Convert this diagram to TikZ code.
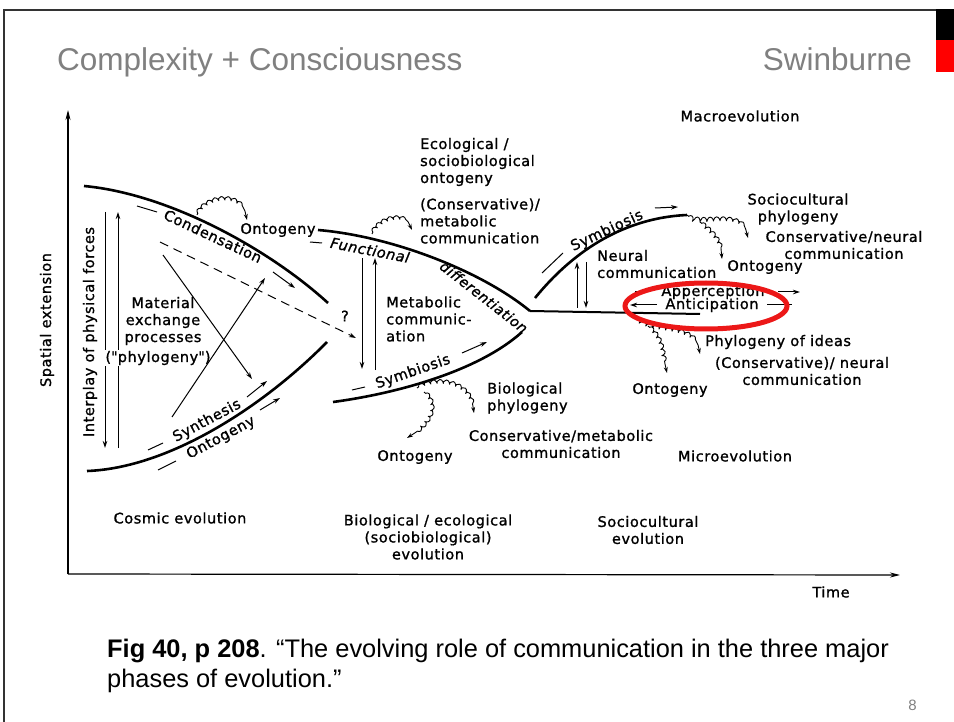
\documentclass[tikz,border=0pt]{standalone}
\usepackage{fontspec}
\usepackage{tikz}
\usetikzlibrary{arrows.meta,decorations.pathmorphing}
\newfontfamily\slidefont{Liberation Sans}
\newfontfamily\figfont[LetterSpace=4,FakeBold=1.2]{DejaVu Sans}
\definecolor{titlegray}{RGB}{128,128,128}
\definecolor{markred}{RGB}{236,24,24}

\begin{document}
\begin{tikzpicture}[x=1pt, y=-1pt,
  every node/.style={font=\figfont\fontsize{14.5}{17}\selectfont, inner sep=0pt, align=center},
  slide/.style={font=\slidefont\fontsize{31.5}{36}\selectfont, text=titlegray},
  bigline/.style={line width=2.6pt},
  arr/.style={line width=1pt, -{Stealth[length=7pt,width=4.5pt]}},
  curl/.style={line width=0.9pt, -{Stealth[length=6pt,width=4pt]}, decorate,
    decoration={coil, aspect=0.5, amplitude=2.2pt, segment length=6.5pt, pre length=2pt, post length=9pt}}]

% Slide frame
\fill[white] (0,0) rectangle (954,722);
\useasboundingbox (0,0) rectangle (954,722);
\draw[line width=2.5pt, black!80] (4,722) -- (4,10) -- (936,10);
\fill[black] (936,9) rectangle (954,40);
\fill[red] (936,40) rectangle (954,72);

% Title and caption
\node[slide, anchor=base west] (title) at (57,71) {Complexity + Consciousness};
\node[slide, anchor=base east] (brand) at (912,71) {Swinburne};
\node[anchor=base west, font=\slidefont\fontsize{25.4}{30}\selectfont] (cap1) at (107,657)
  {\textbf{Fig 40, p 208}. “The evolving role of communication in the three major};
\node[anchor=base west, font=\slidefont\fontsize{25.4}{30}\selectfont] (cap2) at (107,687) {phases of evolution.”};
\node[anchor=base east, font=\slidefont\fontsize{15}{18}\selectfont, text=titlegray] (pagenum) at (917,710) {8};

% Axes
\coordinate (origin) at (68,574);
\coordinate (ytop) at (68,110);
\coordinate (xend) at (900,575);
\draw[line width=1.2pt, -{Stealth[length=10pt,width=5pt]}] (origin) -- (ytop);
\draw[line width=1.2pt, -{Stealth[length=10pt,width=5pt]}] (origin) -- (xend);
\node[rotate=90] (spatial) at (47,320) {Spatial extension};
\node (time) at (831,592) {Time};

% Cosmic evolution
\coordinate (cu1) at (84,186);
\coordinate (cu2) at (328,303);
\draw[bigline] (cu1) .. controls (170,194) and (270,250) .. (cu2);
\coordinate (cl1) at (87,471);
\coordinate (cl2) at (327,342);
\draw[bigline] (cl1) .. controls (170,468) and (265,405) .. (cl2);
\node[rotate=90] (interplay) at (90,332) {Interplay of physical forces};
\coordinate (cv1) at (105,212);
\coordinate (cv2) at (105,448);
\coordinate (cv3) at (118,448);
\coordinate (cv4) at (118,212);
\draw[arr] (cv1) -- (cv2);
\draw[arr] (cv3) -- (cv4);
\node (material) at (163,321) {Material\\exchange\\processes};
\node[fill=white, inner sep=1pt] (phylo) at (158,358) {(\textquotedbl phylogeny\textquotedbl)};
\coordinate (xa1) at (163,255);
\coordinate (xa2) at (252,379);
\coordinate (xb1) at (172,417);
\coordinate (xb2) at (265,278);
\draw[arr] (xa1) -- (xa2);
\draw[arr] (xb1) -- (xb2);
\coordinate (dsh1) at (160,242);
\coordinate (dsh2) at (356,338);
\draw[arr, dash pattern=on 9pt off 6pt] (dsh1) -- (dsh2);
\node (quest) at (345,316) {?};
\node[rotate=-25] (cond) at (213,236) {Condensation};
\draw[line width=1pt] (cond.center) ++(-76,-30) -- ++(20,6);
\draw[arr] (cond.center) ++(60,36) -- ++(22,16);
\node[rotate=28] (synth) at (207,421) {Synthesis};
\draw[line width=1pt] (synth.center) ++(-59,29) -- ++(15,-7);
\draw[arr] (synth.center) ++(40,-24) -- ++(20,-16);
\node[rotate=28] (ontlow) at (221,438) {Ontogeny};
\draw[line width=1pt] (ontlow.center) ++(-63,32) -- ++(18,-9);
\draw[arr] (ontlow.center) ++(39,-28) -- ++(20,-12);
\coordinate (lpa1) at (197,215);
\coordinate (lpa2) at (247,220);
\draw[curl] (lpa1) .. controls (205,195) and (245,190) .. (lpa2);
\node (ontc) at (278,230) {Ontogeny};
\node (cosmic) at (180,518) {Cosmic evolution};

% Biological / ecological evolution
\coordinate (mu1) at (318,230);
\coordinate (jn) at (530,311);
\draw[bigline] (mu1) .. controls (390,236) and (480,270) .. (jn);
\coordinate (ml1) at (333,402);
\coordinate (ml2) at (522,332);
\draw[bigline] (ml1) .. controls (400,393) and (480,370) .. (ml2);
\node[rotate=-11, font=\figfont\itshape\fontsize{14.5}{17}\selectfont] (func) at (370,250) {Functional};
\draw[line width=1pt] (func.center) ++(-60,-8) -- ++(12,1);
\node[rotate=-38, font=\figfont\itshape\fontsize{14}{17}\selectfont] (diff) at (484,297) {differentiation};
\coordinate (mv1) at (362,258);
\coordinate (mv2) at (362,369);
\coordinate (mv3) at (375,370);
\coordinate (mv4) at (375,258);
\draw[arr] (mv1) -- (mv2);
\draw[arr] (mv3) -- (mv4);
\node[anchor=west, align=left] (metab) at (386,319) {Metabolic\\communic-\\ation};
\node[anchor=west, align=left] (ecol) at (420,162) {Ecological /\\sociobiological\\ontogeny};
\node[anchor=west, align=left] (consmet) at (420,221) {(Conservative)/\\metabolic\\communication};
\coordinate (lpb1) at (372,234);
\coordinate (lpb2) at (412,230);
\draw[curl] (lpb1) .. controls (380,215) and (410,212) .. (lpb2);
\node[rotate=19] (symmid) at (413,372) {Symbiosis};
\draw[line width=1pt] (symmid.center) ++(-61,18) -- ++(13,-3);
\draw[arr] (symmid.center) ++(49,-19) -- ++(25,-11);
\coordinate (lpc1) at (417,388);
\coordinate (lpc2) at (474,413);
\draw[curl] (lpc1) .. controls (430,378) and (472,376) .. (lpc2);
\coordinate (lpd1) at (424,392);
\coordinate (lpd2) at (407,438);
\draw[curl] (lpd1) .. controls (440,405) and (430,425) .. (lpd2);
\node[anchor=west, align=left] (biophyl) at (487,398) {Biological\\phylogeny};
\node (consmet2) at (561,444) {Conservative/metabolic\\communication};
\node (ontmid) at (415,457) {Ontogeny};
\node (bioevo) at (428,537) {Biological / ecological\\(sociobiological)\\evolution};

% Sociocultural evolution
\coordinate (ru1) at (535,298);
\coordinate (ru2) at (687,215);
\draw[bigline] (ru1) .. controls (570,255) and (620,218) .. (ru2);
\coordinate (hz) at (700,314);
\draw[line width=2pt] (jn) -- (hz);
\node[rotate=25] (symr) at (607,231) {Symbiosis};
\draw[line width=1pt] (symr.center) ++(-65,42) -- ++(21,-20);
\draw[arr] (symr.center) ++(48,-23) -- ++(23,-1);
\coordinate (rv1) at (577,308);
\coordinate (rv2) at (577,262);
\coordinate (rv3) at (586,262);
\coordinate (rv4) at (586,308);
\draw[arr] (rv1) -- (rv2);
\draw[arr] (rv3) -- (rv4);
\node[anchor=west, align=left] (neural) at (597,264) {Neural\\communication};
\coordinate (lpe1) at (687,215);
\coordinate (lpe2) at (748,238);
\draw[curl] (lpe1) .. controls (700,228) and (745,205) .. (lpe2);
\coordinate (lpf1) at (700,222);
\coordinate (lpf2) at (722,259);
\draw[curl] (lpf1) .. controls (712,232) and (722,240) .. (lpf2);
\node (socphyl) at (798,209) {Sociocultural\\phylogeny};
\node (consneu) at (844,245) {Conservative/neural\\communication};
\node (ontr) at (765,267) {Ontogeny};
\node (apper) at (713,292) {Apperception};
\draw[line width=1pt] (apper.center) ++(-78,0) -- ++(13,0);
\draw[arr] (apper.center) ++(65,0) -- ++(22,0);
\node (antic) at (712,305) {Anticipation};
\draw[arr] (antic.center) ++(-55,0) -- ++(-27,0);
\draw[line width=1pt] (antic.center) ++(55,0) -- ++(25,0);
\coordinate (lpg1) at (635,316);
\coordinate (lpg2) at (700,354);
\draw[curl] (lpg1) .. controls (650,335) and (698,320) .. (lpg2);
\coordinate (lph1) at (648,326);
\coordinate (lph2) at (667,373);
\draw[curl] (lph1) .. controls (665,340) and (662,355) .. (lph2);
\node[anchor=west] (ideas) at (705,342) {Phylogeny of ideas};
\node (consneu2) at (802,371) {(Conservative)/ neural\\communication};
\node (ontrl) at (670,390) {Ontogeny};
\node (macro) at (740,116) {Macroevolution};
\node (micro) at (735,456) {Microevolution};
\node (socevo) at (648,530) {Sociocultural\\evolution};

% Highlight
\draw[markred, line width=5pt] (706,306) ellipse [x radius=81pt, y radius=23pt];
\end{tikzpicture}
\end{document}
